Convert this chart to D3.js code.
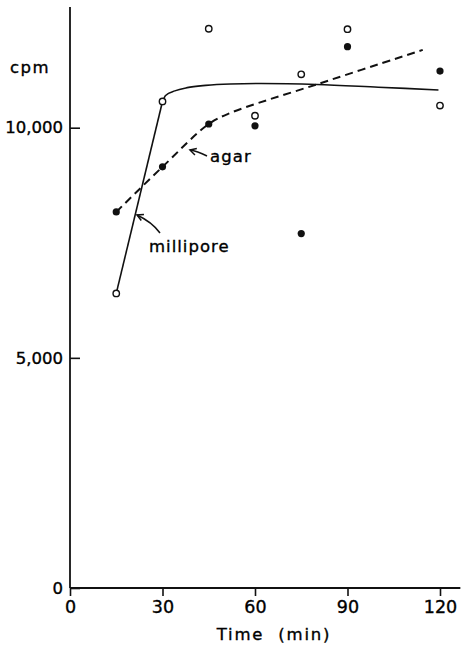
<!DOCTYPE html>
<html><head><meta charset="utf-8">
<script src="https://cdn.jsdelivr.net/npm/d3@7"></script>
<style>
html,body{margin:0;padding:0;background:#fff;}
text{font-family:"DejaVu Sans",sans-serif;fill:#000;stroke:#000;stroke-width:0.35px;}
</style></head>
<body>
<svg id="c" width="461" height="646"></svg>
<script>
// Data (time in min, counts per minute)
const times = [15, 30, 45, 60, 75, 90, 120];
const millipore = [6400, 10570, 12150, 10260, 11160, 12140, 10480];   // open circles
const agar      = [8170, 9150, 10080, 10040, 7700, 11760, 11230];     // filled circles
// fitted curves
const milliporeFitT = [15, 30, 31, 34, 38, 44, 52, 62, 80, 100, 119.5];
const milliporeFitV = [6400, 10570, 10700, 10800, 10870, 10920, 10950, 10960, 10940, 10880, 10820];
const agarFitT = [15, 30, 45, 52, 80, 114.4];
const agarFitV = [8170, 9150, 10080, 10320, 10940, 11690];
const xTicks = [0, 30, 60, 90, 120];
const yTicks = [0, 5000, 10000];

const svg = d3.select("#c");
const x = d3.scaleLinear().domain([0, 120]).range([70, 440]);
const y = d3.scaleLinear().domain([0, 10000]).range([588, 127.7]);

// axes lines
svg.append("line").attr("x1", x(0)).attr("x2", x(0)).attr("y1", y(0)).attr("y2", y(12620))
  .attr("stroke", "#111").attr("stroke-width", 1.8);
svg.append("line").attr("x1", x(0)).attr("x2", x(126.6)).attr("y1", y(0)).attr("y2", y(0))
  .attr("stroke", "#111").attr("stroke-width", 1.8);

const gx = svg.append("g").attr("transform", `translate(0,${y(0)})`)
  .call(d3.axisBottom(x).tickValues(xTicks).tickSize(8).tickPadding(5).tickFormat(d3.format("d")));
gx.select(".domain").remove();
gx.selectAll("line").attr("stroke", "#111").attr("stroke-width", 1.6);
gx.selectAll("text").attr("font-size", 17.5).attr("font-family", "DejaVu Sans").attr("fill", "#000");

const gy = svg.append("g").attr("transform", `translate(${x(0)},0)`)
  .call(d3.axisLeft(y).tickValues(yTicks).tickSizeInner(-10).tickSizeOuter(0).tickPadding(7).tickFormat(d3.format(",")));
gy.select(".domain").remove();
gy.selectAll("line").attr("stroke", "#111").attr("stroke-width", 1.6);
gy.selectAll("text").attr("font-size", 16.5).attr("font-family", "DejaVu Sans").attr("fill", "#000");

// axis titles
svg.append("text").attr("x", 10).attr("y", 73).attr("font-size", 16.5).attr("letter-spacing", 1.5).text("cpm");
svg.append("text").attr("x", 274).attr("y", 640).attr("text-anchor", "middle").attr("font-size", 16.5)
  .attr("letter-spacing", 1.8).attr("xml:space", "preserve").style("white-space", "pre").text("Time  (min)");

// fitted lines
const lineLin = d3.line().x(d => x(d[0])).y(d => y(d[1]));
const lineSmooth = d3.line().x(d => x(d[0])).y(d => y(d[1])).curve(d3.curveMonotoneX);
const lineCR = d3.line().x(d => x(d[0])).y(d => y(d[1])).curve(d3.curveCatmullRom.alpha(0.5));
const mf = milliporeFitT.map((t, i) => [t, milliporeFitV[i]]);
svg.append("path").attr("d", lineLin(mf.slice(0, 2))).attr("fill", "none").attr("stroke", "#111").attr("stroke-width", 1.6);
svg.append("path").attr("d", lineSmooth(mf.slice(1))).attr("fill", "none").attr("stroke", "#111").attr("stroke-width", 1.6);
const af = agarFitT.map((t, i) => [t, agarFitV[i]]);
svg.append("path").attr("d", lineCR(af)).attr("fill", "none").attr("stroke", "#111")
  .attr("stroke-width", 2).attr("stroke-dasharray", "8,5");

// points
svg.selectAll(".m").data(times.map((t, i) => [t, millipore[i]])).join("circle")
  .attr("cx", d => x(d[0])).attr("cy", d => y(d[1])).attr("r", 3.2)
  .attr("fill", "#fff").attr("stroke", "#111").attr("stroke-width", 1.4);
svg.selectAll(".a").data(times.map((t, i) => [t, agar[i]])).join("circle")
  .attr("cx", d => x(d[0])).attr("cy", d => y(d[1])).attr("r", 3.6).attr("fill", "#111");

// annotations
function arrow(path, hx, hy, dx, dy) {
  svg.append("path").attr("d", path).attr("fill", "none").attr("stroke", "#111").attr("stroke-width", 1.5);
  const a = Math.atan2(dy, dx), L = 7, s = 0.5;
  const p1 = [hx + L * Math.cos(a + s), hy + L * Math.sin(a + s)];
  const p2 = [hx + L * Math.cos(a - s), hy + L * Math.sin(a - s)];
  svg.append("path").attr("d", `M${p1}L${hx},${hy}L${p2}`).attr("fill", "none")
    .attr("stroke", "#111").attr("stroke-width", 1.5);
}
arrow("M207,156 Q197,151 190,150", 190, 150, 17, 5);
arrow("M160,233 Q152,222 137,215", 137, 215, 16, 7);
svg.append("text").attr("x", 210).attr("y", 162).attr("font-size", 16.5).attr("letter-spacing", 1.1).text("agar");
svg.append("text").attr("x", 149).attr("y", 252).attr("font-size", 16.5).attr("letter-spacing", 1.0).text("millipore");
</script>
</body></html>
